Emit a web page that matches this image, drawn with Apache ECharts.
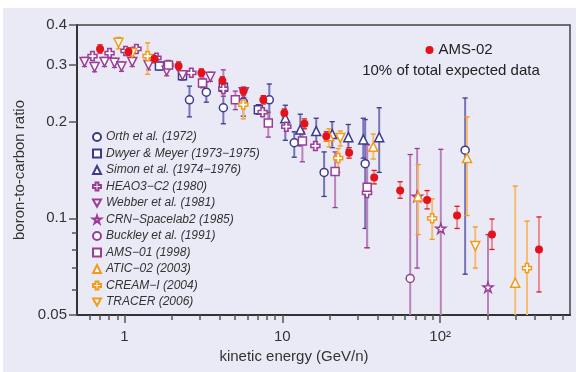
<!DOCTYPE html>
<html><head><meta charset="utf-8">
<script src="https://cdn.jsdelivr.net/npm/echarts@6/dist/echarts.min.js"></script>
<style>html,body{margin:0;padding:0;background:#fff}#c{width:576px;height:372px}</style>
</head><body><div id="c"></div>
<script>
// ---- axis ranges & ticks ----
const xRange = [0.5, 665];
const yRange = [0.05, 0.4];
const xMajorTicks = [1, 10, 100];
const xMinorTicks = [0.6, 0.7, 0.8, 0.9, 2, 3, 4, 5, 6, 7, 8, 9, 20, 30, 40, 50, 60, 70, 80, 90, 200, 300, 400, 500, 600];
const yMajorTicks = [0.05, 0.1, 0.2, 0.3, 0.4];
const yMinorTicks = [0.06, 0.07, 0.08, 0.09];

// ---- data (E in GeV/n, B/C ratio, error low/high) ----
const orthE  = [2.58, 3.30, 4.23, 5.66, 8.27, 11.9, 18.4, 33.5, 144];
const orthR  = [0.234, 0.247, 0.221, 0.230, 0.234, 0.172, 0.139, 0.148, 0.163];
const orthLo = [0.207, 0.230, 0.197, 0.208, 0.197, 0.155, 0.117, 0.093, 0.067];
const orthHi = [0.258, 0.266, 0.260, 0.252, 0.262, 0.186, 0.161, 0.203, 0.237];

const dwyerE  = [1.665, 2.33, 4.23, 7.05];
const dwyerR  = [0.298, 0.278, 0.256, 0.218];
const dwyerLo = [0.290, 0.270, 0.247, 0.211];
const dwyerHi = [0.306, 0.287, 0.265, 0.226];

const simonE  = [10.45, 13.0, 16.4, 20.7, 26.2, 32.6, 41.1];
const simonR  = [0.205, 0.189, 0.187, 0.183, 0.179, 0.176, 0.179];
const simonLo = [0.175, 0.168, 0.166, 0.166, 0.164, 0.154, 0.139];
const simonHi = [0.225, 0.211, 0.205, 0.200, 0.196, 0.205, 0.221];

const heaoE  = [0.627, 0.804, 1.015, 1.19, 1.594, 1.898, 2.65, 4.23, 7.5, 10.6, 16.2, 34.4];
const heaoR  = [0.320, 0.327, 0.332, 0.337, 0.316, 0.300, 0.284, 0.253, 0.214, 0.193, 0.168, 0.120];
const heaoLo = [0.311, 0.318, 0.323, 0.328, 0.307, 0.292, 0.276, 0.240, 0.208, 0.187, 0.163, 0.081];
const heaoHi = [0.329, 0.336, 0.342, 0.347, 0.325, 0.309, 0.292, 0.290, 0.220, 0.199, 0.173, 0.169];

const webberE  = [0.558, 0.646, 0.747, 0.864, 0.957, 1.12, 1.42, 1.85, 2.33, 3.5, 5.7];
const webberR  = [0.307, 0.296, 0.307, 0.305, 0.297, 0.307, 0.300, 0.288, 0.279, 0.276, 0.247];
const webberLo = [0.297, 0.286, 0.297, 0.295, 0.287, 0.297, 0.290, 0.278, 0.270, 0.267, 0.238];
const webberHi = [0.317, 0.306, 0.317, 0.315, 0.307, 0.317, 0.310, 0.298, 0.288, 0.285, 0.256];

const crnE  = [71.5, 101, 201];
const crnR  = [0.117, 0.093, 0.061];
const crnLo = [0.070, 0.040, 0.040];
const crnHi = [0.165, 0.164, 0.089];

const buckleyE  = [64.6];
const buckleyR  = [0.065];
const buckleyLo = [0.040];
const buckleyHi = [0.158];

const ams01E  = [1.90, 3.12, 5.04, 8.15, 13.4, 21.6, 34.5];
const ams01R  = [0.300, 0.264, 0.234, 0.198, 0.174, 0.140, 0.125];
const ams01Lo = [0.291, 0.255, 0.218, 0.179, 0.150, 0.108, 0.081];
const ams01Hi = [0.309, 0.273, 0.249, 0.214, 0.186, 0.161, 0.170];

const aticE  = [19.8, 37.7, 72.6, 148, 299];
const aticR  = [0.180, 0.167, 0.117, 0.154, 0.063];
const aticLo = [0.167, 0.153, 0.089, 0.102, 0.040];
const aticHi = [0.190, 0.183, 0.147, 0.207, 0.126];

const creamE  = [1.40, 5.66, 22.6, 89, 355];
const creamR  = [0.320, 0.226, 0.154, 0.100, 0.070];
const creamLo = [0.281, 0.204, 0.139, 0.086, 0.040];
const creamHi = [0.352, 0.236, 0.165, 0.115, 0.098];

const tracerE  = [0.916, 1.12, 23.3, 167];
const tracerR  = [0.352, 0.327, 0.178, 0.082];
const tracerLo = [0.337, 0.318, 0.168, 0.070];
const tracerHi = [0.366, 0.336, 0.187, 0.094];

const ams02E  = [0.70, 1.06, 1.55, 2.20, 3.07, 4.17, 5.67, 7.58, 10.3, 13.8, 19.0, 26.5, 38.2, 55.8, 82.7, 128, 213, 423];
const ams02R  = [0.337, 0.330, 0.314, 0.298, 0.284, 0.268, 0.249, 0.234, 0.213, 0.197, 0.180, 0.160, 0.134, 0.122, 0.114, 0.102, 0.089, 0.080];
const ams02Lo = [0.327, 0.321, 0.305, 0.290, 0.276, 0.260, 0.242, 0.227, 0.207, 0.190, 0.174, 0.154, 0.128, 0.1155, 0.107, 0.093, 0.080, 0.059];
const ams02Hi = [0.347, 0.340, 0.323, 0.307, 0.292, 0.276, 0.256, 0.241, 0.219, 0.204, 0.186, 0.166, 0.141, 0.130, 0.122, 0.109, 0.0995, 0.101];

// ---- styles ----
const NAVY = '#3b3a8e', PURPLE = '#9b3c97', ORANGE = '#f39a1a', RED = '#e3121b';
const ERR = {};
ERR[NAVY] = '#7674b6'; ERR[PURPLE] = '#bb82ba'; ERR[ORANGE] = '#f6bd6e'; ERR[RED] = '#ec8c92';
const TRI_DOWN = 'path://M0,0L10,0L5,9Z';
const PLUS = 'path://M3.2,0H6.8V3.2H10V6.8H6.8V10H3.2V6.8H0V3.2H3.2Z';
const STAR = 'path://M5,0L6.2,3.6L10,3.6L6.9,5.9L8.1,9.5L5,7.3L1.9,9.5L3.1,5.9L0,3.6L3.8,3.6Z';

const sets = [
  {name: 'Orth et al. (1972)', E: orthE, R: orthR, lo: orthLo, hi: orthHi, c: NAVY, sym: 'circle', size: 8},
  {name: 'Dwyer & Meyer (1973−1975)', E: dwyerE, R: dwyerR, lo: dwyerLo, hi: dwyerHi, c: NAVY, sym: 'rect', size: 8},
  {name: 'Simon et al. (1974−1976)', E: simonE, R: simonR, lo: simonLo, hi: simonHi, c: NAVY, sym: 'triangle', size: 9},
  {name: 'HEAO3−C2 (1980)', E: heaoE, R: heaoR, lo: heaoLo, hi: heaoHi, c: PURPLE, sym: PLUS, size: 9},
  {name: 'Webber et al. (1981)', E: webberE, R: webberR, lo: webberLo, hi: webberHi, c: PURPLE, sym: TRI_DOWN, size: 9},
  {name: 'CRN−Spacelab2 (1985)', E: crnE, R: crnR, lo: crnLo, hi: crnHi, c: PURPLE, sym: STAR, size: 10},
  {name: 'Buckley et al. (1991)', E: buckleyE, R: buckleyR, lo: buckleyLo, hi: buckleyHi, c: PURPLE, sym: 'circle', size: 8},
  {name: 'AMS−01 (1998)', E: ams01E, R: ams01R, lo: ams01Lo, hi: ams01Hi, c: PURPLE, sym: 'rect', size: 8},
  {name: 'ATIC−02 (2003)', E: aticE, R: aticR, lo: aticLo, hi: aticHi, c: ORANGE, sym: 'triangle', size: 9},
  {name: 'CREAM−I (2004)', E: creamE, R: creamR, lo: creamLo, hi: creamHi, c: ORANGE, sym: PLUS, size: 9},
  {name: 'TRACER (2006)', E: tracerE, R: tracerR, lo: tracerLo, hi: tracerHi, c: ORANGE, sym: TRI_DOWN, size: 9},
  {name: 'AMS-02', E: ams02E, R: ams02R, lo: ams02Lo, hi: ams02Hi, c: RED, sym: 'circle', size: 8, filled: true}
];

const L = Math.log10;
const FONT = '"Liberation Sans", Arial, sans-serif';

function errSeries(s) {
  return {
    type: 'custom', name: s.name + ' err', silent: true, z: 2, clip: true,
    data: s.E.map((e, i) => [L(e), L(s.lo[i]), L(s.hi[i])]),
    renderItem: function (params, api) {
      const a = api.coord([api.value(0), api.value(1)]);
      const b = api.coord([api.value(0), api.value(2)]);
      const w = 2.6;
      return {
        type: 'group', children: [
          {type: 'line', shape: {x1: a[0], y1: a[1], x2: b[0], y2: b[1]}, style: {stroke: ERR[s.c], lineWidth: 2}},
          {type: 'line', shape: {x1: a[0] - w, y1: a[1], x2: a[0] + w, y2: a[1]}, style: {stroke: s.c, lineWidth: 1.3}},
          {type: 'line', shape: {x1: b[0] - w, y1: b[1], x2: b[0] + w, y2: b[1]}, style: {stroke: s.c, lineWidth: 1.3}}
        ]
      };
    }
  };
}
function pointSeries(s) {
  return {
    type: 'scatter', name: s.name, z: 4, symbol: s.sym, symbolSize: s.size,
    itemStyle: {color: s.filled ? s.c : '#ffffff', borderColor: s.c, borderWidth: s.filled ? 0 : 1.5, opacity: 1},
    emphasis: {disabled: true},
    data: s.E.map((e, i) => [L(e), L(s.R[i])])
  };
}

const series = [];
sets.forEach(s => series.push(errSeries(s)));
sets.forEach(s => series.push(pointSeries(s)));

function fmtX(v) {
  const t = Math.round(Math.pow(10, v));
  return t === 100 ? '10²' : String(t);
}
function fmtY(v) {
  return String(Math.round(Math.pow(10, v) * 100) / 100);
}
const axisText = {fontSize: 15, color: '#333', fontFamily: FONT};

const option = {
  backgroundColor: '#ffffff',
  animation: false,
  textStyle: {fontFamily: FONT},
  grid: {left: 77, right: 6, top: 25, bottom: 57, show: true, borderColor: '#444', borderWidth: 1.5, backgroundColor: 'transparent'},
  xAxis: [
    {type: 'value', min: L(xRange[0]), max: L(xRange[1]), position: 'bottom',
     axisLine: {show: true, onZero: false, lineStyle: {color: '#333', width: 2}},
     axisTick: {show: true, customValues: xMajorTicks.map(L), length: 8, lineStyle: {color: '#555', width: 1.5}},
     axisLabel: {show: true, customValues: xMajorTicks.map(L), formatter: fmtX, margin: 14, ...axisText},
     splitLine: {show: false},
     name: 'kinetic energy (GeV/n)', nameLocation: 'middle', nameGap: 31,
     nameTextStyle: {fontSize: 15, color: '#333', fontFamily: FONT, padding: [0, 59, 0, 0]}},
    {type: 'value', min: L(xRange[0]), max: L(xRange[1]), position: 'bottom',
     axisLine: {show: false, onZero: false},
     axisTick: {show: true, customValues: xMinorTicks.map(L), length: 5, lineStyle: {color: '#555', width: 1.5}},
     axisLabel: {show: false}, splitLine: {show: false}}
  ],
  yAxis: [
    {type: 'value', min: L(yRange[0]), max: L(yRange[1]), position: 'left',
     axisLine: {show: true, onZero: false, lineStyle: {color: '#333', width: 2}},
     axisTick: {show: true, customValues: yMajorTicks.map(L), length: 8, lineStyle: {color: '#555', width: 1.5}},
     axisLabel: {show: true, customValues: yMajorTicks.map(L), formatter: fmtY, margin: 10, ...axisText},
     splitLine: {show: false},
     name: 'boron-to-carbon ratio', nameLocation: 'middle', nameGap: 42,
     nameTextStyle: {fontSize: 15, color: '#333', fontFamily: FONT}},
    {type: 'value', min: L(yRange[0]), max: L(yRange[1]), position: 'left',
     axisLine: {show: false, onZero: false},
     axisTick: {show: true, customValues: yMinorTicks.map(L), length: 5, lineStyle: {color: '#555', width: 1.5}},
     axisLabel: {show: false}, splitLine: {show: false}}
  ],
  legend: [
    {orient: 'vertical', left: 92, top: 130, padding: 0, itemWidth: 8, itemHeight: 8, itemGap: 2.5,
     selectedMode: false,
     data: sets.slice(0, 11).map(s => s.name),
     textStyle: {fontStyle: 'italic', fontSize: 12, color: '#333', fontFamily: FONT, lineHeight: 14}},
    {orient: 'horizontal', left: 425.5, top: 41, padding: 0, itemWidth: 8, itemHeight: 8,
     selectedMode: false, data: ['AMS-02'],
     textStyle: {fontSize: 15, color: '#222', fontFamily: FONT, lineHeight: 18}}
  ],
  graphic: [
    {type: 'rect', z: -100, silent: true, shape: {x: 3, y: 8, width: 573, height: 364}, style: {fill: '#eaeaf6'}},
    {type: 'text', z: 10, x: 451, y: 71, style: {text: '10% of total expected data', font: '15px ' + FONT, fill: '#222', align: 'center', verticalAlign: 'middle'}}
  ],
  series: series
};
const chart = echarts.init(document.getElementById('c'), null, {renderer: 'canvas'});
chart.setOption(option);
</script>
</body></html>
